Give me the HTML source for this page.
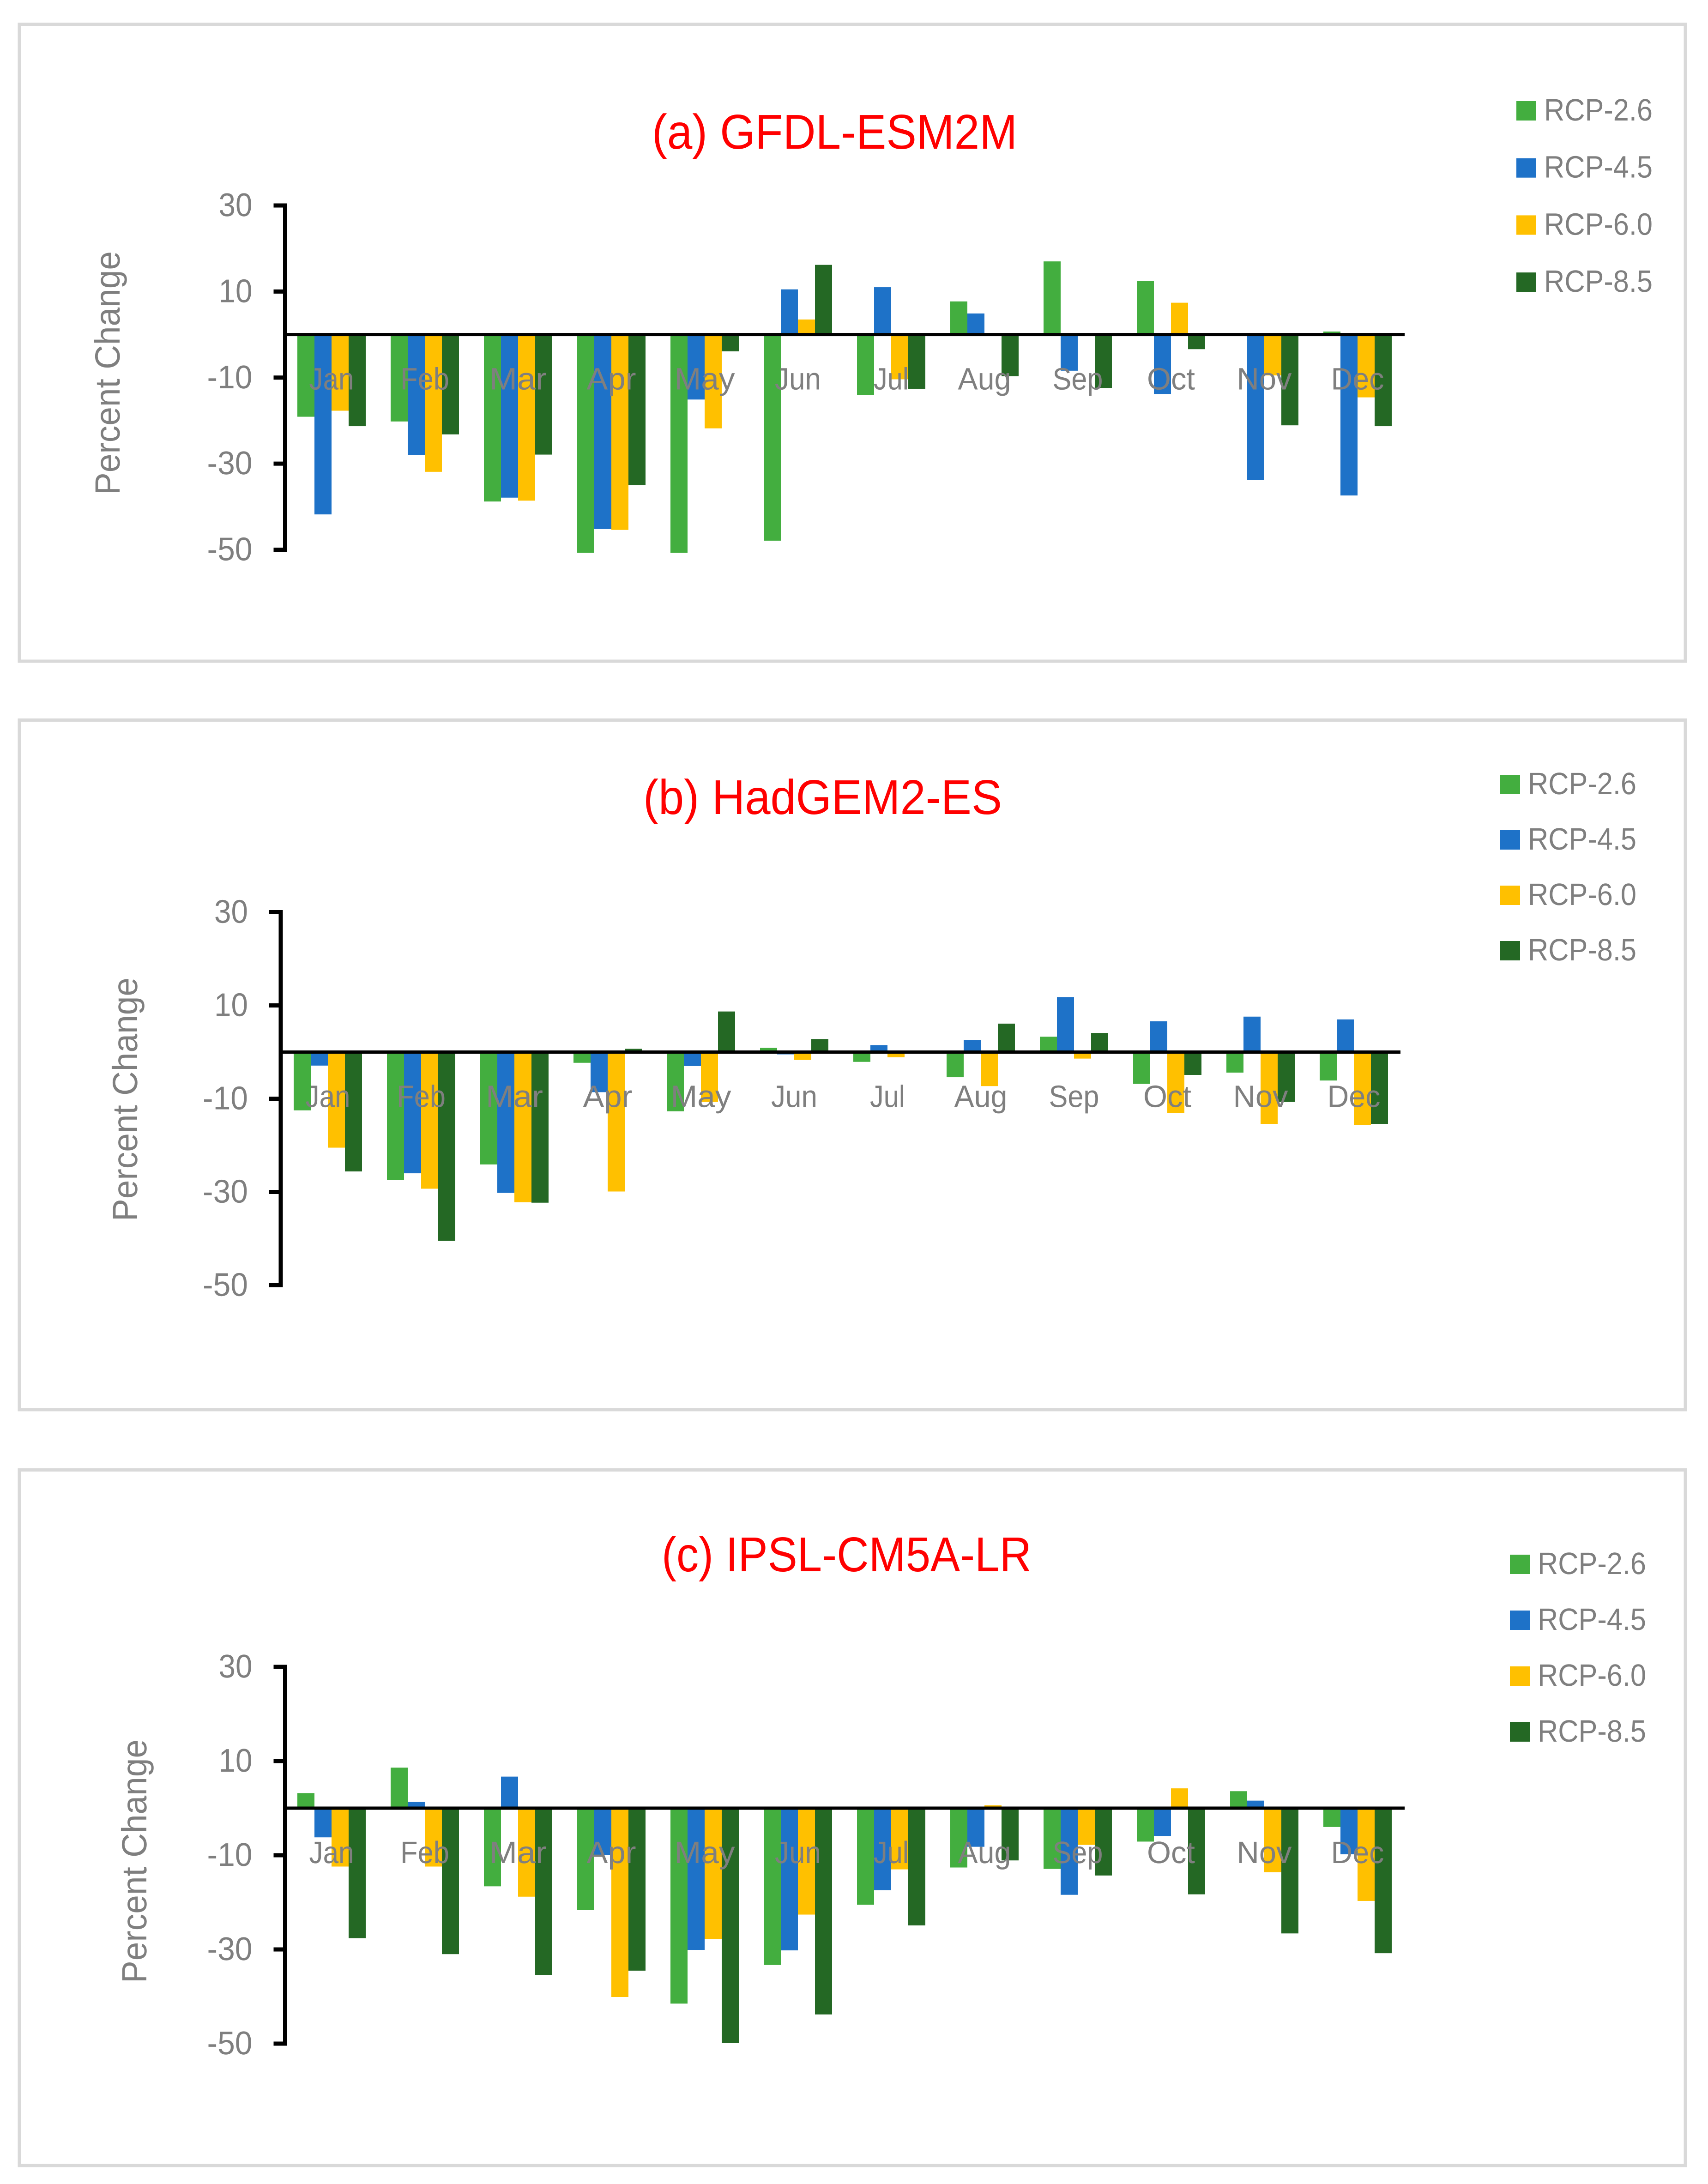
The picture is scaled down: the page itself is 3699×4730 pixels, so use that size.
<!DOCTYPE html>
<html lang="en">
<head>
<meta charset="utf-8">
<title>Percent Change by Month under RCP Scenarios</title>
<style>
  html, body { margin: 0; padding: 0; background: #ffffff; }
  svg { display: block; }
  text { font-family: "Liberation Sans", sans-serif; text-rendering: geometricPrecision; }
</style>
</head>
<body>
<svg id="chart-root" xmlns="http://www.w3.org/2000/svg" width="3699" height="4730" viewBox="0 0 3699 4730"></svg>
<script>
// ---------- shared categories and labels ----------
const months = ["Jan", "Feb", "Mar", "Apr", "May", "Jun", "Jul", "Aug", "Sep", "Oct", "Nov", "Dec"];
const seriesNames = ["RCP-2.6", "RCP-4.5", "RCP-6.0", "RCP-8.5"];
const tickValues = [30, 10, -10, -30, -50];

// ---------- (a) GFDL-ESM2M ----------
const gfdlRcp26 = [-19.1, -20.2, -38.8, -50.7, -50.7, -47.9, -14.1, 7.7, 17.0, 12.5, 0, 0.7];
const gfdlRcp45 = [-41.8, -28.0, -37.9, -45.2, -15.1, 10.5, 11.0, 4.9, -8.4, -13.8, -33.8, -37.4];
const gfdlRcp60 = [-17.7, -31.9, -38.6, -45.4, -21.8, 3.5, -10.4, -0.2, 0, 7.4, -9.5, -14.6];
const gfdlRcp85 = [-21.3, -23.2, -27.9, -35.0, -3.9, 16.2, -12.6, -9.7, -12.4, -3.4, -21.1, -21.3];

// ---------- (b) HadGEM2-ES ----------
const hadRcp26 = [-12.5, -27.4, -24.1, -2.3, -12.7, 0.9, -2.1, -5.4, 3.3, -6.8, -4.4, -6.1];
const hadRcp45 = [-2.9, -26.0, -30.2, -8.6, -3.0, -0.5, 1.5, 2.6, 11.8, 6.6, 7.6, 7.0];
const hadRcp60 = [-20.5, -29.3, -32.2, -29.9, -10.7, -1.7, -1.1, -7.3, -1.4, -13.1, -15.4, -15.6];
const hadRcp85 = [-25.6, -40.5, -32.3, 0.7, 8.7, 2.8, 0, 6.1, 4.1, -4.9, -10.7, -15.4];

// ---------- (c) IPSL-CM5A-LR ----------
const ipslRcp26 = [3.2, 8.6, -16.6, -21.6, -41.5, -33.3, -20.5, -12.6, -12.9, -7.1, 3.6, -4.0];
const ipslRcp45 = [-6.2, 1.3, 6.7, -10.0, -30.1, -30.2, -17.4, -8.2, -18.4, -5.9, 1.6, -9.8];
const ipslRcp60 = [-12.4, -12.4, -18.8, -40.1, -27.8, -22.6, -13.0, 0.6, -7.8, 4.2, -13.6, -19.7];
const ipslRcp85 = [-27.6, -31.0, -35.4, -34.5, -49.9, -43.8, -24.9, -11.1, -14.3, -18.3, -26.6, -30.8];

const seriesColors = ["#43ae3f", "#1e72c8", "#ffc000", "#246824"];
// advance widths that approximate the original condensed typeface
const monthTextWidth = { Jan: 97, Feb: 106, Mar: 124, Apr: 107, May: 131, Jun: 100, Jul: 76, Aug: 115, Sep: 109, Oct: 104, Nov: 119, Dec: 115 };
const NS = "http://www.w3.org/2000/svg";
const root = document.getElementById("chart-root");

function make(tag, attrs, parent) {
  const el = document.createElementNS(NS, tag);
  for (const k in attrs) el.setAttribute(k, attrs[k]);
  parent.appendChild(el);
  return el;
}

function drawPanel(p) {
  const g = make("g", {}, root);
  
  

  const frame = make("rect", { x: 42, y: p.top, width: 3608, height: p.bottom - p.top, fill: "#ffffff", stroke: "#d9d9d9", "stroke-width": 7 }, g);
  
  

  const title = make("text", { x: p.titleX, y: p.titleY, "font-size": 106, fill: "#ff0000", textLength: p.titleW, lengthAdjust: "spacingAndGlyphs" }, g);
  title.textContent = p.title;
  
  

  const yTitle = make("text", { x: 0, y: 0, "font-size": 76, fill: "#7f7f7f", textLength: 528, lengthAdjust: "spacingAndGlyphs", transform: "translate(" + p.yTitleX + "," + p.yTitleY + ") rotate(-90)" }, g);
  yTitle.textContent = "Percent Change";
  
  

  // axis functions
  const yScale = v => p.y30 + (30 - v) * (p.yMinus50 - p.y30) / 80;
  const bandStart = i => p.barStart + i * 202;
  const barX = (i, s) => bandStart(i) + s * 37;
  const zeroY = yScale(0);

  // bars
  p.series.forEach((values, s) => {
    values.forEach((v, i) => {
      const y0 = yScale(Math.max(v, 0));
      const y1 = yScale(Math.min(v, 0));
      const bar = make("rect", { x: barX(i, s), y: y0, width: 37, height: y1 - y0, fill: seriesColors[s] }, g);
      
      
    });
  });

  // y axis spine and ticks
  const spine = make("rect", { x: p.axisX - 4.5, y: yScale(30) - 4.5, width: 9, height: yScale(-50) - yScale(30) + 9, fill: "#000000" }, g);
  
  

  tickValues.forEach(t => {
    const tick = make("rect", { x: p.axisX - 25, y: yScale(t) - 4.5, width: 25, height: 9, fill: "#000000" }, g);
    
    
    const label = make("text", { x: p.axisX - 71, y: yScale(t) + 23, "font-size": 71, fill: "#7f7f7f", "text-anchor": "end", textLength: t < 0 ? 98 : 73, lengthAdjust: "spacingAndGlyphs" }, g);
    label.textContent = String(t);
    
    
  });

  // zero line
  const zero = make("rect", { x: p.axisX, y: zeroY - 3.5, width: p.zeroEnd - p.axisX, height: 7, fill: "#000000" }, g);
  
  

  // month labels
  months.forEach((m, i) => {
    const label = make("text", { x: bandStart(i) + 74, y: zeroY + 119, "font-size": 67, fill: "#7f7f7f", "text-anchor": "middle", textLength: monthTextWidth[m], lengthAdjust: "spacingAndGlyphs" }, g);
    label.textContent = m;
    
    
  });

  // legend
  seriesNames.forEach((name, s) => {
    const y = p.legendY + s * p.legendStep;
    const swatch = make("rect", { x: p.legendX, y: y, width: 43, height: 42, fill: seriesColors[s] }, g);
    
    
    const text = make("text", { x: p.legendX + 60, y: y + 42, "font-size": 67, fill: "#7f7f7f", textLength: 235, lengthAdjust: "spacingAndGlyphs" }, g);
    text.textContent = name;
    
    
  });
}

drawPanel({
  key: "gfdl-esm2m", title: "(a) GFDL-ESM2M",
  top: 52.5, bottom: 1432, titleX: 1412, titleY: 322, titleW: 791,
  yTitleX: 259, yTitleY: 1072,
  axisX: 617.5, y30: 445, yMinus50: 1190.5, zeroEnd: 3042, barStart: 644,
  legendX: 3284, legendY: 219, legendStep: 123.7,
  series: [gfdlRcp26, gfdlRcp45, gfdlRcp60, gfdlRcp85]
});
drawPanel({
  key: "hadgem2-es", title: "(b) HadGEM2-ES",
  top: 1559.5, bottom: 3053, titleX: 1393, titleY: 1763, titleW: 777,
  yTitleX: 297, yTitleY: 2645,
  axisX: 608, y30: 1975.5, yMinus50: 2783.5, zeroEnd: 3033, barStart: 636,
  legendX: 3249, legendY: 1678, legendStep: 120,
  series: [hadRcp26, hadRcp45, hadRcp60, hadRcp85]
});
drawPanel({
  key: "ipsl-cm5a-lr", title: "(c) IPSL-CM5A-LR",
  top: 3183.5, bottom: 4690, titleX: 1433, titleY: 3403, titleW: 801,
  yTitleX: 317, yTitleY: 4295,
  axisX: 617.5, y30: 3610, yMinus50: 4426, zeroEnd: 3042, barStart: 644,
  legendX: 3270, legendY: 3367, legendStep: 121,
  series: [ipslRcp26, ipslRcp45, ipslRcp60, ipslRcp85]
});
</script>
</body>
</html>
